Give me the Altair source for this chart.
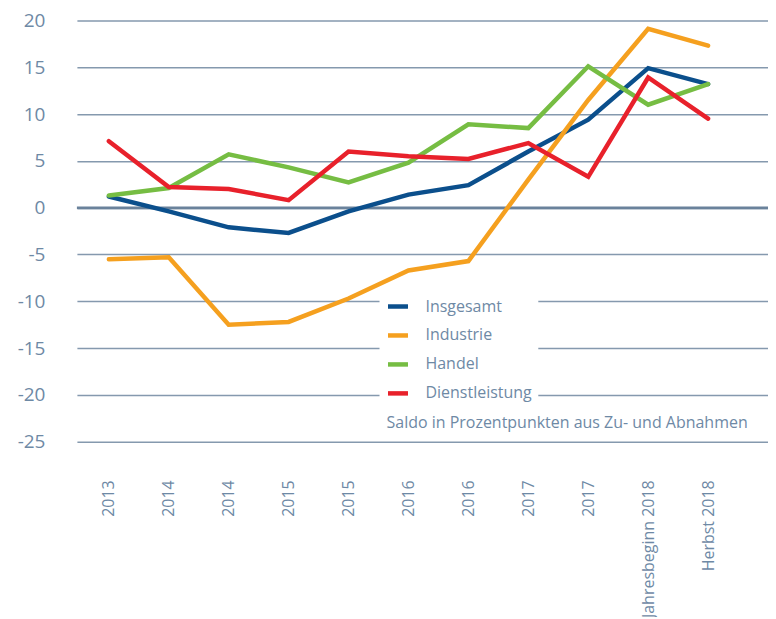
import altair as alt
import pandas as pd

categories = ["2013", "2014", "2014", "2015", "2015", "2016", "2016", "2017", "2017",
              "Jahresbeginn 2018", "Herbst 2018"]
series = ["Insgesamt", "Industrie", "Handel", "Dienstleistung"]
colors = ["#0b4f8c", "#f5a01f", "#76bd43", "#e8212b"]

insgesamt = [1.2, -0.4, -2.1, -2.7, -0.4, 1.4, 2.4, 6.0, 9.4, 14.9, 13.2]
industrie = [-5.5, -5.3, -12.5, -12.2, -9.7, -6.7, -5.7, 3.0, 11.5, 19.1, 17.3]
handel = [1.3, 2.1, 5.7, 4.3, 2.7, 4.8, 8.9, 8.5, 15.1, 11.0, 13.2]
dienstleistung = [7.1, 2.2, 2.0, 0.8, 6.0, 5.5, 5.2, 6.9, 3.3, 13.9, 9.5]

caption = "Saldo in Prozentpunkten aus Zu- und Abnahmen"
y_ticks = [-25, -20, -15, -10, -5, 0, 5, 10, 15, 20]

values = {"Insgesamt": insgesamt, "Industrie": industrie, "Handel": handel,
          "Dienstleistung": dienstleistung}
rows = []
for s in series:
    for i, v in enumerate(values[s]):
        rows.append({"idx": i, "serie": s, "wert": v, "order": series.index(s)})
df = pd.DataFrame(rows)

FONT = "Open Sans"
TXT = "#6e89a5"
label_expr = "[" + ",".join("'" + c + "'" for c in categories) + "][datum.value]"

x_scale = alt.Scale(domain=[-0.533, 11], nice=False, zero=False)
y_scale = alt.Scale(domain=[-25, 20], nice=False)

lines = alt.Chart(df).mark_line(strokeWidth=4.5, strokeCap="round", strokeJoin="miter").encode(
    x=alt.X("idx:Q", scale=x_scale,
            axis=alt.Axis(values=list(range(len(categories))), labelExpr=label_expr,
                          labelAngle=-90, labelPadding=38, grid=False, domain=False,
                          ticks=False, title=None, labelFont=FONT, labelFontSize=16,
                          labelColor=TXT, labelOverlap=False)),
    y=alt.Y("wert:Q", scale=y_scale,
            axis=alt.Axis(values=y_ticks, grid=True, gridColor="#8599ae", gridWidth=1.5,
                          domain=False, ticks=False, title=None, labelPadding=32,
                          labelFont=FONT, labelFontSize=19, labelColor=TXT,
                          labelExpr="datum.value < 0 ? '-' + abs(datum.value) : '' + datum.value")),
    color=alt.Color("serie:N", scale=alt.Scale(domain=series, range=colors),
                    legend=alt.Legend(orient="none", legendX=303, legendY=268, title=None,
                                      fillColor="white", padding=6, symbolType="stroke",
                                      symbolSize=400, symbolStrokeWidth=4.5,
                                      rowPadding=7, labelFont=FONT, labelFontSize=16,
                                      labelColor=TXT, labelOffset=15)),
    order=alt.Order("order:Q"),
)

zero = alt.Chart(pd.DataFrame({"y": [0]})).mark_rule(color="#6a829b", strokeWidth=2.5).encode(
    y=alt.Y("y:Q", scale=y_scale)
)

cap = alt.Chart(pd.DataFrame({"t": [caption]})).mark_text(
    align="left", baseline="middle", font=FONT, fontSize=16, color=TXT
).encode(text="t:N", x=alt.value(310), y=alt.value(403))

chart = alt.layer(zero, lines, cap).properties(
    width=692, height=422,
    autosize=alt.AutoSizeParams(type="none"),
    padding={"left": 69, "top": 12, "right": 0, "bottom": 175},
).configure_view(stroke=None)

chart.save("out.html", embed_options={"renderer": "svg", "actions": False})
